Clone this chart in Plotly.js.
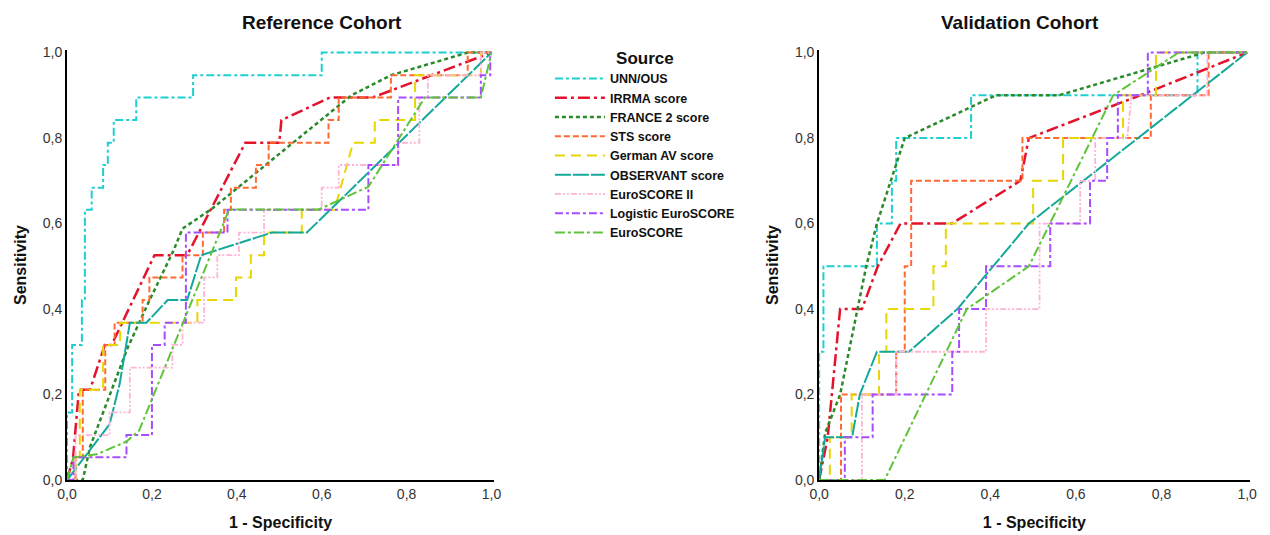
<!DOCTYPE html>
<html><head><meta charset="utf-8">
<script src="https://cdn.plot.ly/plotly-3.0.1.min.js"></script>
<style>body{margin:0;background:#fff}#chart{width:1270px;height:535px}</style>
</head><body><div id="chart"></div>
<script>
// ---------- DATA ----------
const seriesNames = ["UNN/OUS","IRRMA score","FRANCE 2 score","STS score","German AV score","OBSERVANT score","EuroSCORE II","Logistic EuroSCORE","EuroSCORE"];
const tickVals = [0,0.2,0.4,0.6,0.8,1.0];
const tickLabels = ["0,0","0,2","0,4","0,6","0,8","1,0"];

// Reference cohort (1 - specificity, sensitivity)
const ref_UNN_x = [0,0,0.012,0.012,0.035,0.035,0.042,0.042,0.058,0.058,0.085,0.085,0.096,0.096,0.11,0.11,0.163,0.163,0.297,0.297,0.6,0.6,1];
const ref_UNN_y = [0,0.158,0.158,0.316,0.316,0.421,0.421,0.632,0.632,0.684,0.684,0.737,0.737,0.789,0.789,0.842,0.842,0.895,0.895,0.947,0.947,1,1];
const ref_IRRMA_x = [0,0.014,0.028,0.054,0.089,0.105,0.206,0.283,0.42,0.5,0.505,0.62,0.72,1];
const ref_IRRMA_y = [0,0.05,0.211,0.211,0.316,0.316,0.526,0.526,0.789,0.789,0.842,0.895,0.895,1];
const ref_FR2_x = [0,0.037,0.054,0.105,0.143,0.194,0.25,0.272,0.342,0.5,0.67,0.763,0.944,1];
const ref_FR2_y = [0,0,0.077,0.21,0.31,0.42,0.535,0.588,0.635,0.763,0.9,0.947,1,1];
const ref_STS_x = [0,0.02,0.02,0.037,0.037,0.09,0.09,0.112,0.112,0.178,0.178,0.194,0.194,0.272,0.272,0.32,0.32,0.37,0.37,0.386,0.386,0.445,0.445,0.475,0.475,0.616,0.616,0.64,0.64,0.763,0.763,0.944,0.944,1];
const ref_STS_y = [0,0,0.053,0.053,0.211,0.211,0.316,0.316,0.368,0.368,0.421,0.421,0.474,0.474,0.526,0.526,0.579,0.579,0.632,0.632,0.684,0.684,0.737,0.737,0.789,0.789,0.842,0.842,0.895,0.895,0.947,0.947,1,1];
const ref_GER_x = [0,0.02,0.02,0.03,0.03,0.085,0.085,0.125,0.125,0.307,0.307,0.398,0.398,0.433,0.433,0.464,0.464,0.553,0.553,0.63,0.674,0.725,0.725,0.82,0.82,0.975,0.975,1];
const ref_GER_y = [0,0,0.053,0.053,0.211,0.211,0.316,0.316,0.368,0.368,0.421,0.421,0.474,0.474,0.526,0.526,0.579,0.579,0.632,0.632,0.789,0.789,0.842,0.842,0.947,0.947,1,1];
const ref_OBS_x = [0,0.1,0.124,0.148,0.187,0.237,0.283,0.316,0.483,0.565,1];
const ref_OBS_y = [0,0.13,0.225,0.368,0.368,0.421,0.421,0.526,0.579,0.579,1];
const ref_ES2_x = [0,0.02,0.02,0.1,0.1,0.148,0.148,0.248,0.248,0.272,0.272,0.323,0.323,0.354,0.354,0.405,0.405,0.464,0.464,0.6,0.6,0.64,0.64,0.78,0.78,0.83,0.83,0.85,0.85,0.975,0.975,1];
const ref_ES2_y = [0,0,0.105,0.105,0.158,0.158,0.263,0.263,0.316,0.316,0.368,0.368,0.474,0.474,0.526,0.526,0.579,0.579,0.632,0.632,0.684,0.684,0.737,0.737,0.789,0.789,0.895,0.895,0.947,0.947,1,1];
const ref_LES_x = [0,0.015,0.015,0.14,0.14,0.2,0.2,0.23,0.23,0.28,0.28,0.378,0.378,0.71,0.71,0.78,0.78,0.975,0.975,0.997,0.997,1];
const ref_LES_y = [0,0,0.053,0.053,0.105,0.105,0.316,0.316,0.368,0.368,0.579,0.579,0.632,0.632,0.737,0.737,0.895,0.895,0.947,0.947,1,1];
const ref_ES_x = [0,0.015,0.07,0.14,0.17,0.382,0.593,0.71,0.843,0.975,1];
const ref_ES_y = [0,0.053,0.06,0.09,0.116,0.633,0.633,0.686,0.895,0.895,1];

// Validation cohort
const val_UNN_x = [0,0,0.01,0.01,0.135,0.135,0.17,0.17,0.18,0.18,0.355,0.355,0.884,0.884,1];
const val_UNN_y = [0,0.3,0.3,0.5,0.5,0.6,0.6,0.7,0.7,0.8,0.8,0.9,0.9,1,1];
const val_IRRMA_x = [0,0.02,0.049,0.1,0.137,0.19,0.31,0.47,0.49,0.75,1];
const val_IRRMA_y = [0,0.1,0.4,0.4,0.5,0.6,0.6,0.7,0.8,0.9,1];
const val_FR2_x = [0,0.014,0.049,0.11,0.135,0.2,0.413,0.56,0.9,1];
const val_FR2_y = [0,0.11,0.2,0.5,0.6,0.8,0.9,0.9,1,1];
const val_STS_x = [0,0.051,0.051,0.18,0.18,0.2,0.2,0.215,0.215,0.475,0.475,0.775,0.775,0.91,0.91,1];
const val_STS_y = [0,0,0.2,0.2,0.3,0.3,0.5,0.5,0.7,0.7,0.8,0.8,0.9,0.9,1,1];
const val_GER_x = [0,0.025,0.025,0.076,0.076,0.14,0.14,0.157,0.157,0.267,0.267,0.296,0.296,0.5,0.5,0.57,0.57,0.71,0.71,0.787,0.787,1];
const val_GER_y = [0,0,0.1,0.1,0.2,0.2,0.3,0.3,0.4,0.4,0.5,0.5,0.6,0.6,0.7,0.7,0.8,0.8,0.9,0.9,1,1];
const val_OBS_x = [0,0.014,0.077,0.095,0.135,0.21,0.323,0.49,1];
const val_OBS_y = [0,0.1,0.1,0.2,0.3,0.3,0.4,0.6,1];
const val_ES2_x = [0,0.1,0.1,0.18,0.18,0.39,0.39,0.515,0.515,0.61,0.61,0.645,0.645,0.72,0.73,0.907,0.907,1];
const val_ES2_y = [0,0,0.2,0.2,0.3,0.3,0.4,0.4,0.6,0.6,0.7,0.7,0.8,0.8,0.9,0.9,1,1];
const val_LES_x = [0,0.06,0.06,0.125,0.125,0.311,0.311,0.327,0.327,0.39,0.39,0.54,0.54,0.633,0.633,0.673,0.673,0.698,0.698,0.768,0.768,1];
const val_LES_y = [0,0,0.1,0.1,0.2,0.2,0.3,0.3,0.4,0.4,0.5,0.5,0.6,0.6,0.7,0.7,0.8,0.8,0.9,0.9,1,1];
const val_ES_x = [0,0.153,0.345,0.49,0.687,0.84,1];
const val_ES_y = [0,0,0.4,0.5,0.9,1,1];

// ---------- STYLE ----------
const styles = [
  {color:"#1fcfd0", dash:"8px,3px,3px,3px", width:2},
  {color:"#e3122d", dash:"12px,4px,3px,4px", width:2.5},
  {color:"#2a8a2a", dash:"4px,3px", width:2.5},
  {color:"#ff6a33", dash:"6px,3px", width:2},
  {color:"#e8d600", dash:"10px,6px", width:2},
  {color:"#14a99c", dash:"16px,2px", width:2},
  {color:"#ffb3d6", dash:"6px,2px,2px,2px,2px,2px", width:1.8},
  {color:"#a64dff", dash:"8px,3px,3px,3px", width:2},
  {color:"#5ec43a", dash:"10px,3px,3px,3px", width:2}
];
const refX = [ref_UNN_x,ref_IRRMA_x,ref_FR2_x,ref_STS_x,ref_GER_x,ref_OBS_x,ref_ES2_x,ref_LES_x,ref_ES_x];
const refY = [ref_UNN_y,ref_IRRMA_y,ref_FR2_y,ref_STS_y,ref_GER_y,ref_OBS_y,ref_ES2_y,ref_LES_y,ref_ES_y];
const valX = [val_UNN_x,val_IRRMA_x,val_FR2_x,val_STS_x,val_GER_x,val_OBS_x,val_ES2_x,val_LES_x,val_ES_x];
const valY = [val_UNN_y,val_IRRMA_y,val_FR2_y,val_STS_y,val_GER_y,val_OBS_y,val_ES2_y,val_LES_y,val_ES_y];

const traces = [];
seriesNames.forEach((n,i)=>{
  traces.push({x:refX[i], y:refY[i], name:n, mode:"lines", type:"scatter", xaxis:"x", yaxis:"y",
    line:{color:styles[i].color, dash:styles[i].dash, width:styles[i].width}, legendgroup:n, showlegend:true, hoverinfo:"skip"});
});
seriesNames.forEach((n,i)=>{
  traces.push({x:valX[i], y:valY[i], name:n, mode:"lines", type:"scatter", xaxis:"x2", yaxis:"y2",
    line:{color:styles[i].color, dash:styles[i].dash, width:styles[i].width}, legendgroup:n, showlegend:false, hoverinfo:"skip"});
});

const FONT = "Liberation Sans, Arial, sans-serif";
function xa(domain, anchor){
  return {domain:domain, anchor:anchor, range:[0,1.006], showgrid:false, zeroline:false,
    showline:true, linecolor:"#000", linewidth:2, ticks:"", tickvals:tickVals, ticktext:tickLabels,
    tickfont:{family:FONT,size:14,color:"#333"}, fixedrange:true,
    title:{text:"1 - Specificity", font:{family:FONT,size:16,color:"#111",weight:"bold"}, standoff:16}};
}
function ya(domain, anchor){
  return {domain:domain, anchor:anchor, range:[0,1.006], showgrid:false, zeroline:false,
    showline:true, linecolor:"#000", linewidth:2, ticks:"", tickvals:tickVals, ticktext:tickLabels,
    tickfont:{family:FONT,size:14,color:"#333"}, fixedrange:true,
    title:{text:"Sensitivity", font:{family:FONT,size:16,color:"#111",weight:"bold"}, standoff:12}};
}
const layout = {
  width:1270, height:535, paper_bgcolor:"#fff", plot_bgcolor:"#fff",
  margin:{l:0,r:0,t:0,b:0},
  font:{family:FONT},
  xaxis: xa([0.0528,0.389],"y"),
  yaxis: ya([0.1028,0.9065],"x"),
  xaxis2: xa([0.645,0.984],"y2"),
  yaxis2: ya([0.1028,0.9065],"x2"),
  showlegend:true,
  legend:{x:0.433, xanchor:"left", y:0.922, yanchor:"top", bgcolor:"rgba(0,0,0,0)",
    font:{family:FONT,size:12.5,color:"#111",weight:"bold"}, itemwidth:50,
    title:{text:"Source", side:"top center", font:{family:FONT,size:17,color:"#111",weight:"bold"}},
    tracegroupgap:0},
  annotations:[
    {text:"Reference Cohort", x:322/1270, xanchor:"center", y:1-22/535, yanchor:"middle", xref:"paper", yref:"paper", showarrow:false,
      font:{family:FONT,size:19,color:"#111",weight:"bold"}},
    {text:"Validation Cohort", x:1020/1270, xanchor:"center", y:1-22/535, yanchor:"middle", xref:"paper", yref:"paper", showarrow:false,
      font:{family:FONT,size:19,color:"#111",weight:"bold"}}
  ]
};
Plotly.newPlot("chart", traces, layout, {displayModeBar:false, staticPlot:true});
</script></body></html>
